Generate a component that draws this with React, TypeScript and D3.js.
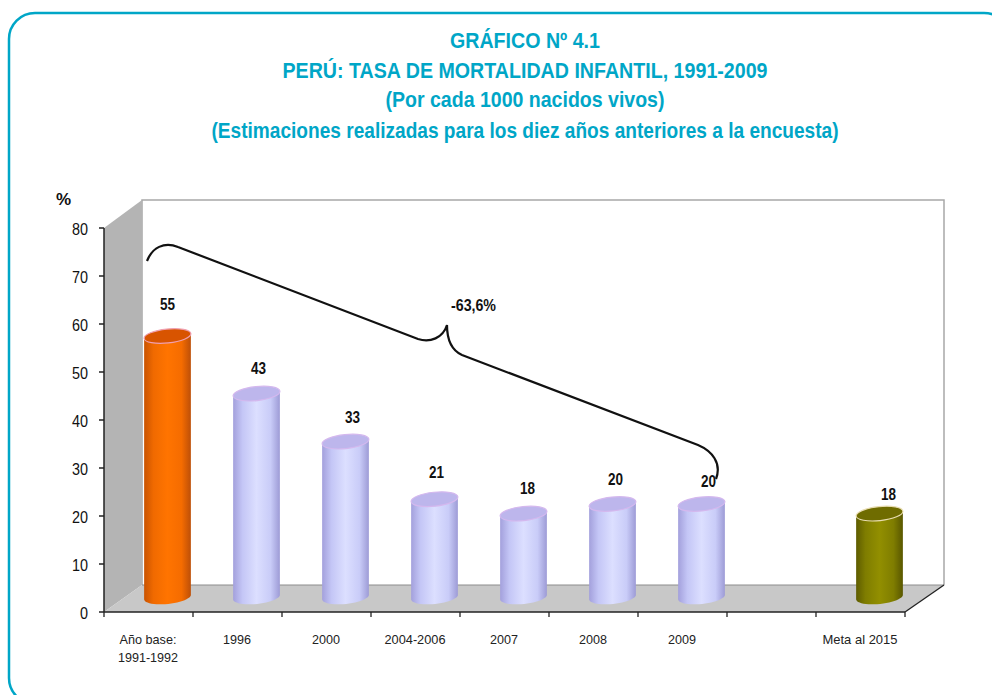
import React from "react";
import * as d3 from "d3";

const categories = ["Año base:|1991-1992", "1996", "2000", "2004-2006", "2007", "2008", "2009", "", "Meta al 2015"];
const categoryWidths = [[57, 60], [28], [28], [61], [28], [28], [28], [0], [75]];
const values: (number | null)[] = [55, 43, 33, 21, 18, 20, 20, null, 18];
const yTicks = [0, 10, 20, 30, 40, 50, 60, 70, 80];
const titleLines = [
  "GRÁFICO Nº 4.1",
  "PERÚ: TASA DE MORTALIDAD INFANTIL, 1991-2009",
  "(Por cada 1000 nacidos vivos)",
  "(Estimaciones realizadas para los diez años anteriores a la encuesta)",
];
const titleWidths = [150, 485, 279, 627];
const titleBaselines = [48, 78, 107, 138];
const labelShift: [number, number][] = [
  [0, -26], [2, -20], [7, -19], [2, -21], [4, -20], [3, -19], [7, -17], [0, 0], [9, -14],
];
const percentLabel = "-63,6%";
const TEAL = "#00a6c7";

const FONT = "'Liberation Sans', Arial, sans-serif";

export default function App() {
  const W = 992, H = 695;
  const x0 = 104, x1 = 905, y0 = 612, y80 = 228;
  const depthX = 38, depthY = 27, backTop = 200;
  const x = d3.scaleBand<number>().domain(d3.range(categories.length)).range([x0, x1]).padding(0);
  const y = d3.scaleLinear().domain([0, 80]).range([y0, y80]);
  const barW = 47, rx = barW / 2, ry = 7;
  const barShiftX = 19, barShiftY = 12;
  const tilt = -6;
  const rad = (tilt * Math.PI) / 180;

  const colorFor = (i: number) => (i === 0 ? "o" : i === 8 ? "g" : "b");
  const stops: Record<string, string[]> = {
    o: ["#c95300", "#f06a00", "#ff7400", "#f56c00", "#bd4f08"],
    b: ["#a3a0dc", "#c4c6f6", "#dcdfff", "#c9ccf8", "#9d9bd6"],
    g: ["#5e5c00", "#7f7d00", "#928f00", "#7f7d00", "#595700"],
  };
  const tops: Record<string, string> = { o: "#d85400", b: "#bdb6ec", g: "#6f6c00" };
  const rims: Record<string, string> = { o: "#f0a0b0", b: "#d4b8ee", g: "#e8dcb0" };

  // Point on the tilted ellipse at parameter t, centred on (cx, cy).
  const ellipsePoint = (cx: number, cy: number, t: number): [number, number] => {
    const ex = rx * Math.cos(t), ey = ry * Math.sin(t);
    return [cx + ex * Math.cos(rad) - ey * Math.sin(rad), cy + ex * Math.sin(rad) + ey * Math.cos(rad)];
  };
  const outline = d3.line();

  return (
    <svg width={W} height={H} viewBox={`0 0 ${W} ${H}`} style={{ position: "absolute", left: 0, top: 0, display: "block", background: "#fff" }}>
      <defs>
        {Object.keys(stops).map((k) => (
          <linearGradient key={k} id={`g-${k}`} x1="0" x2="1" y1="0" y2="0">
            {stops[k].map((c, i) => (
              <stop key={i} offset={i === 0 ? 0 : i === 1 ? 0.2 : i === 2 ? 0.5 : i === 3 ? 0.8 : 1} stopColor={c} />
            ))}
          </linearGradient>
        ))}
      </defs>

      <rect x={9} y={13} width={1001} height={691} rx={26} ry={26} fill="none" stroke={TEAL} strokeWidth={2.5} />

      {titleLines.map((t, i) => (
        <text key={i} x={525} y={titleBaselines[i]} textAnchor="middle" fontFamily={FONT} fontWeight="bold" fontSize={21.5}
          fill={TEAL} textLength={titleWidths[i]} lengthAdjust="spacingAndGlyphs">{t}</text>
      ))}

      {/* back wall */}
      <polygon points={`${x0 + depthX},${backTop} ${x1 + depthX + 1},${backTop} ${x1 + depthX + 1},${y0 - depthY} ${x0 + depthX},${y0 - depthY}`} fill="#fff" />
      <path d={`M${x0 + depthX},${y0 - depthY}V${backTop}H${x1 + depthX + 1}V${y0 - depthY}`} fill="none" stroke="#a8a8a8" strokeWidth={1.5} />
      {/* left wall */}
      <polygon points={`${x0},${y80} ${x0 + depthX},${backTop} ${x0 + depthX},${y0 - depthY} ${x0},${y0}`} fill="#b4b4b4" />
      {/* floor */}
      <polygon points={`${x0},${y0} ${x1},${y0} ${x1 + depthX + 1},${y0 - depthY} ${x0 + depthX},${y0 - depthY}`} fill="#c8c8c8" />
      <line x1={x0 + depthX} x2={x1 + depthX + 1} y1={y0 - depthY} y2={y0 - depthY} stroke="#8c8c8c" strokeWidth={1} />
      <line x1={x1} x2={x1 + depthX + 1} y1={y0} y2={y0 - depthY} stroke="#222" strokeWidth={1.3} />

      {/* axes */}
      <line x1={x0} x2={x1} y1={y0} y2={y0} stroke="#222" strokeWidth={1.5} />
      <line x1={x0} x2={x0} y1={y80} y2={y0} stroke="#222" strokeWidth={1.5} />
      {yTicks.map((t) => (
        <g key={t}>
          <line x1={x0 - 5} x2={x0} y1={y(t)} y2={y(t)} stroke="#222" strokeWidth={1.5} />
          <text x={x0 - 16} y={y(t) + 7} textAnchor="end" fontFamily={FONT} fontSize={17} textLength={t === 0 ? 8 : 16} lengthAdjust="spacingAndGlyphs" fill="#111">{t}</text>
        </g>
      ))}
      {categories.map((c, i) => {
        const b = x(i)!;
        return (
          <g key={i}>
            <line x1={b} x2={b} y1={y0} y2={y0 + 5} stroke="#222" strokeWidth={1.3} />
            {i === categories.length - 1 && <line x1={x1} x2={x1} y1={y0} y2={y0 + 5} stroke="#222" strokeWidth={1.3} />}
            {c.split("|").map((ln, j) => (
              <text key={j} x={b + x.bandwidth() / 2 - 0.5} y={644 + j * 18} textAnchor="middle" fontFamily={FONT} fontSize={13.5} fill="#222"
                textLength={categoryWidths[i][j] || undefined} lengthAdjust="spacingAndGlyphs">{ln}</text>
            ))}
          </g>
        );
      })}
      <text x={56} y={205} fontFamily={FONT} fontWeight="bold" fontSize={17} fill="#111">%</text>

      {/* bars */}
      {values.map((v, i) => {
        if (v === null) return null;
        const cx = x(i)! + x.bandwidth() / 2 + barShiftX;
        const base = y(0) - barShiftY;
        const top = base - (y(0) - y(v));
        const k = colorFor(i);
        const lower = d3.range(0, 25).map((n) => ellipsePoint(cx, base - 3, Math.PI - (n * Math.PI) / 24));
        const upperR = ellipsePoint(cx, top, 0);
        const upperL = ellipsePoint(cx, top, Math.PI);
        const side = outline([upperL, ...lower, upperR]) + "Z";
        return (
          <g key={i}>
            <path d={side} fill={`url(#g-${k})`} />
            <ellipse cx={cx} cy={top} rx={rx} ry={ry} fill={tops[k]} stroke={rims[k]} strokeWidth={1.2} transform={`rotate(${tilt} ${cx} ${top})`} />
            <text x={cx + labelShift[i][0]} y={top + labelShift[i][1]} textAnchor="middle" fontFamily={FONT} fontWeight="bold" fontSize={16} textLength={String(v).length * 7.5} lengthAdjust="spacingAndGlyphs" fill="#111">{v}</text>
          </g>
        );
      })}

      {/* brace */}
      <path d="M147,261 C152,248 164,241 178,247 L418,339 C430,343 443,338 447,325 C447,339 451,350 462,355 L698,445 C712,451 722,463 716,479"
        fill="none" stroke="#111" strokeWidth={2.2} />
      <text x={451} y={311} fontFamily={FONT} fontWeight="bold" fontSize={16} textLength={45} lengthAdjust="spacingAndGlyphs" fill="#111">{percentLabel}</text>
    </svg>
  );
}
